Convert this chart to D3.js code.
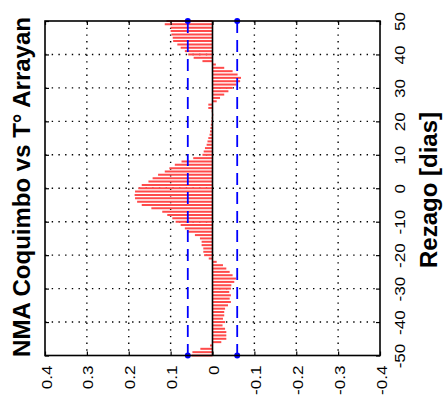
<!DOCTYPE html>
<html><head><meta charset="utf-8">
<script src="https://cdn.jsdelivr.net/npm/d3@7"></script>
<style>body{margin:0;background:#fff}svg{display:block}text{font-family:"Liberation Sans",Arial,sans-serif}</style>
</head><body><svg id="c" width="445" height="412"></svg>
<script>
const lags = d3.range(-50, 51);
const values = [
 0.050, 0.048, 0.029, 0.006,-0.021,-0.033,-0.033,-0.033,-0.030,-0.024,
-0.030,-0.025,-0.028,-0.028,-0.030,-0.037,-0.044,-0.041,-0.044,-0.040,
-0.044,-0.045,-0.052,-0.056,-0.048,-0.041,-0.033,-0.025,-0.010, 0.009,
 0.020, 0.022, 0.022, 0.026, 0.026, 0.030, 0.042, 0.058, 0.066, 0.076,
 0.088, 0.096, 0.108, 0.120, 0.146, 0.169, 0.180, 0.185, 0.186, 0.185,
 0.177,
 0.169, 0.153, 0.143, 0.130, 0.114, 0.103, 0.090, 0.074, 0.046, 0.024,
 0.021, 0.018, 0.014, 0.012, 0.010, 0.007, 0.006, 0.005, 0.004, 0.003,
 0.002,-0.002, 0.002, 0.010, 0.010,-0.010,-0.018,-0.028,-0.038,-0.048,
-0.057,-0.066,-0.068,-0.060,-0.048,-0.028,-0.008, 0.024, 0.045, 0.058,
 0.066, 0.076, 0.084, 0.094, 0.095, 0.098, 0.100, 0.100, 0.114, 0.110
];
const confBound = [0.059, -0.059];
const valueTicks = [0.4, 0.3, 0.2, 0.1, 0, -0.1, -0.2, -0.3, -0.4];
const valueTickLabels = ["0.4","0.3","0.2","0.1","0","-0.1","-0.2","-0.3","-0.4"];
const lagTicks = [-50,-40,-30,-20,-10,0,10,20,30,40,50];
const lagTickLabels = ["-50","-40","-30","-20","-10","0","10","20","30","40","50"];
const titleText = "NMA Coquimbo vs T\u00b0 Arrayan";
const lagLabel = "Rezago [dias]";

const L = 45, R = 380, T = 21, B = 355.5;
const svg = d3.select("#c");
const x = d3.scaleLinear().domain([0.4, -0.4]).range([L, R]);
const y = d3.scaleLinear().domain([50, -50]).range([T, B]);

// grid
const g = svg.append("g");
g.selectAll("line.gv").data(valueTicks.filter(v => Math.abs(v) < 0.39 && v !== 0)).join("line")
  .attr("x1", d => x(d)).attr("x2", d => x(d)).attr("y1", T).attr("y2", B)
  .attr("stroke", "#000").attr("stroke-width", 1.4).attr("stroke-dasharray", "1.4,5.3");
g.selectAll("line.gh").data(lagTicks.filter(v => Math.abs(v) < 50)).join("line")
  .attr("y1", d => y(d)).attr("y2", d => y(d)).attr("x1", L).attr("x2", R)
  .attr("stroke", "#000").attr("stroke-width", 1.4).attr("stroke-dasharray", "1.4,5.3");

// stems
svg.append("g").selectAll("line").data(lags).join("line")
  .attr("x1", x(0)).attr("x2", (d, i) => x(values[i]))
  .attr("y1", d => y(d)).attr("y2", d => y(d))
  .attr("stroke", "#ff4a4a").attr("stroke-width", 2);

// zero line
svg.append("line").attr("x1", x(0)).attr("x2", x(0)).attr("y1", T).attr("y2", B)
  .attr("stroke", "#000").attr("stroke-width", 1.6);

// confidence bounds
confBound.forEach(c => {
  svg.append("line").attr("x1", x(c)).attr("x2", x(c)).attr("y1", y(50)).attr("y2", y(-50))
    .attr("stroke", "#0000ff").attr("stroke-width", 1.8).attr("stroke-dasharray", "12,7");
  svg.selectAll(null).data([50, -50]).join("circle")
    .attr("cx", x(c)).attr("cy", d => y(d)).attr("r", 3).attr("fill", "#0000ff");
});

// axes
const axB = svg.append("g").attr("transform", `translate(0,${B})`)
  .call(d3.axisBottom(x).tickValues(valueTicks).tickSize(-4).tickFormat((d, i) => valueTickLabels[i]));
const axT = svg.append("g").attr("transform", `translate(0,${T})`)
  .call(d3.axisTop(x).tickValues(valueTicks).tickSize(-4).tickFormat(""));
const axR = svg.append("g").attr("transform", `translate(${R},0)`)
  .call(d3.axisRight(y).tickValues(lagTicks).tickSize(-4).tickFormat((d, i) => lagTickLabels[i]));
const axLft = svg.append("g").attr("transform", `translate(${L},0)`)
  .call(d3.axisLeft(y).tickValues(lagTicks).tickSize(-4).tickFormat(""));
[axB, axT, axR, axLft].forEach(a => {
  a.select(".domain").remove();
  a.selectAll(".tick line").attr("stroke", "#000").attr("stroke-width", 1.2);
});
axB.selectAll(".tick text")
  .attr("x", null).attr("y", null).attr("dy", "0.36em")
  .attr("transform", "translate(1,10) rotate(-90) scale(1.22,1)")
  .attr("text-anchor", "end").attr("fill", "#000").style("font-size", "14px");
axR.selectAll(".tick text")
  .attr("x", null).attr("y", null).attr("dy", null)
  .attr("transform", "translate(25,0) rotate(-90) scale(1.22,1)")
  .attr("text-anchor", "middle").attr("fill", "#000").style("font-size", "14px");

// box
svg.append("rect").attr("x", L).attr("y", T).attr("width", R - L).attr("height", B - T)
  .attr("fill", "none").attr("stroke", "#000").attr("stroke-width", 1.6);

// titles
svg.append("text").attr("transform", "translate(30,187) rotate(-90)")
  .attr("text-anchor", "middle").style("font-size", "24px").style("font-weight", "bold")
  .text(titleText);
svg.append("text").attr("transform", "translate(437,190) rotate(-90)")
  .attr("text-anchor", "middle").style("font-size", "24px").style("font-weight", "bold")
  .text(lagLabel);
</script></body></html>
